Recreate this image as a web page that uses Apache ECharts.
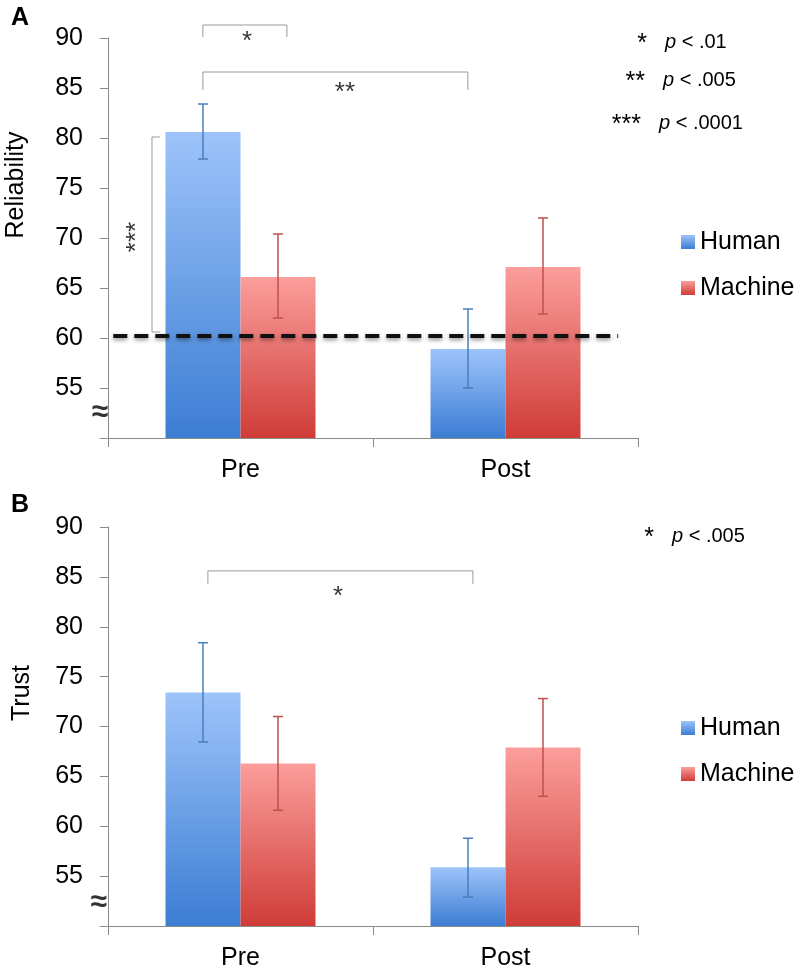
<!DOCTYPE html>
<html><head><meta charset="utf-8">
<script src="https://cdn.jsdelivr.net/npm/echarts@6/dist/echarts.min.js"></script>
<style>html,body{margin:0;padding:0;background:#fff}#c{width:800px;height:971px}</style>
</head><body><div id="c"></div>
<script>
// ---------- data ----------
const categories = ['Pre', 'Post'];
const seriesNames = ['Human', 'Machine'];
const yMin = 50, yMax = 90, yStep = 5;

// Panel A: Reliability
const relHuman = [80.6, 58.9];
const relHumanLow = [77.9, 55.0];
const relHumanHigh = [83.4, 62.9];
const relMachine = [66.1, 67.1];
const relMachineLow = [62.0, 62.4];
const relMachineHigh = [70.4, 72.0];
const relReference = 60.2;                 // dashed line value
const relReferenceSpan = [0.02, 1.925];     // along the 2 categories

// Panel B: Trust
const trustHuman = [73.4, 55.9];
const trustHumanLow = [68.45, 52.9];
const trustHumanHigh = [78.4, 58.8];
const trustMachine = [66.3, 67.9];
const trustMachineLow = [61.6, 63.0];
const trustMachineHigh = [71.0, 72.8];

// significance brackets (x in category units 0..2, y in axis units)
const relBrackets = [
  [[0.358, 90.1], [0.358, 91.3], [0.675, 91.3], [0.675, 90.1]],
  [[0.358, 84.8], [0.358, 86.6], [1.358, 86.6], [1.358, 84.8]],
  [[0.196, 80.1], [0.166, 80.1], [0.166, 60.6], [0.196, 60.6]]
];
const relMarks = [
  { x: 0.525, y: 89.6, text: '*', rotate: 0 },
  { x: 0.894, y: 84.5, text: '**', rotate: 0 },
  { x: 0.108, y: 70.1, text: '***', rotate: 90 },
  { x: -0.03, y: 52.5, text: '≈', rotate: 0, big: true }
];
const trustBrackets = [
  [[0.377, 84.3], [0.377, 85.6], [1.377, 85.6], [1.377, 84.3]]
];
const trustMarks = [
  { x: 0.868, y: 83.0, text: '*', rotate: 0 },
  { x: -0.035, y: 52.3, text: '≈', rotate: 0, big: true }
];
const relLegendNotes = [['*', 'p', ' < .01'], ['**', 'p', ' < .005'], ['***', 'p', ' < .0001']];
const trustLegendNotes = [['*', 'p', ' < .005']];

// ---------- style ----------
const FONT = '"Liberation Sans", Arial, Helvetica, sans-serif';
const BAR_FRAC = 0.566;
const blueGrad = () => new echarts.graphic.LinearGradient(0, 0, 0, 1, [
  { offset: 0, color: '#9DC4FA' }, { offset: 1, color: '#3C7DD3' }]);
const redGrad = () => new echarts.graphic.LinearGradient(0, 0, 0, 1, [
  { offset: 0, color: '#FB9E9C' }, { offset: 1, color: '#CF3C37' }]);

const grids = [
  { left: 108, top: 38, width: 530, height: 400 },
  { left: 108, top: 527, width: 530, height: 399 }
];

function catAxis(g) {
  return {
    type: 'category', gridIndex: g, data: categories, boundaryGap: true,
    axisLine: { onZero: false, lineStyle: { color: '#8a8a8a', width: 1 } },
    axisTick: { show: true, length: 9, lineStyle: { color: '#8a8a8a' } },
    axisLabel: { fontSize: 25, color: '#000', fontFamily: FONT, margin: 20 }
  };
}
function hiddenAxis(g) {
  return { type: 'value', gridIndex: g, min: 0, max: 2, show: false };
}
function valAxis(g) {
  return {
    type: 'value', gridIndex: g, min: yMin, max: yMax, interval: yStep,
    splitLine: { show: false },
    axisLine: { show: true, lineStyle: { color: '#8a8a8a', width: 1 } },
    axisTick: { show: true, length: 8, lineStyle: { color: '#8a8a8a' } },
    axisLabel: { fontSize: 25, color: '#000', fontFamily: FONT, margin: 25,
      formatter: v => (v === yMin ? '' : String(v)) }
  };
}

function barSeries(name, data, grad, xi, yi) {
  return {
    type: 'bar', name, data, xAxisIndex: xi, yAxisIndex: yi,
    barGap: '0%', barCategoryGap: ((1 - BAR_FRAC) * 100).toFixed(1) + '%',
    itemStyle: { color: grad }, clip: true, z: 2
  };
}
function errorSeries(name, low, high, side, color, xi, yi) {
  return {
    type: 'custom', name: name + ' err', xAxisIndex: xi, yAxisIndex: yi, z: 5, silent: true,
    data: low.map((l, i) => [i, l, high[i]]),
    encode: { x: 0, y: [1, 2] },
    renderItem(params, api) {
      const c = api.value(0);
      const lo = api.coord([c, api.value(1)]);
      const hi = api.coord([c, api.value(2)]);
      const band = api.size([1, 0])[0];
      const x = lo[0] + side * band * BAR_FRAC / 4;
      const cap = 5;
      const style = { stroke: color, lineWidth: 1.5 };
      return { type: 'group', children: [
        { type: 'line', shape: { x1: x, y1: hi[1], x2: x, y2: lo[1] }, style },
        { type: 'line', shape: { x1: x - cap, y1: hi[1], x2: x + cap, y2: hi[1] }, style },
        { type: 'line', shape: { x1: x - cap, y1: lo[1], x2: x + cap, y2: lo[1] }, style }
      ] };
    }
  };
}
function bracketSeries(list, xi, yi) {
  return list.map((pts, k) => ({
    type: 'line', name: 'bracket' + k, xAxisIndex: xi, yAxisIndex: yi, data: pts,
    symbol: 'none', clip: false, silent: true, z: 3,
    lineStyle: { color: '#9a9a9a', width: 1 }
  }));
}
function markSeries(list, xi, yi) {
  return {
    type: 'scatter', name: 'marks', xAxisIndex: xi, yAxisIndex: yi, clip: false, silent: true,
    symbolSize: 0, z: 6,
    data: list.map(m => ({
      value: [m.x, m.y],
      label: { show: true, position: 'inside', formatter: m.text, rotate: m.rotate,
        fontSize: m.big ? 30 : 26, fontWeight: m.big ? 'bold' : 'normal',
        color: '#000', fontFamily: FONT, align: 'center', verticalAlign: 'middle' }
    }))
  };
}
function notes(list, rightX, leftX, y0, dy) {
  const out = [];
  list.forEach((n, i) => {
    const y = y0 + i * dy[i];
    out.push({ type: 'text', x: rightX[i], y: y + 2, silent: true,
      style: { text: n[0], align: 'right', verticalAlign: 'middle', fontSize: 25, fontFamily: FONT, fill: '#000' } });
    out.push({ type: 'text', x: leftX[i], y: y, silent: true,
      style: { text: '{i|' + n[1] + '}' + n[2], align: 'left', verticalAlign: 'middle', fontSize: 20, fontFamily: FONT, fill: '#000',
        rich: { i: { fontStyle: 'italic', fontSize: 20, fontFamily: FONT, fill: '#000' } } } });
  });
  return out;
}

const legendBase = {
  orient: 'vertical', itemWidth: 14, itemHeight: 14, itemGap: 16, icon: 'rect',
  data: seriesNames, selectedMode: false,
  textStyle: { fontSize: 25, color: '#000', fontFamily: FONT, lineHeight: 30 }
};

const option = {
  animation: false,
  backgroundColor: '#fff',
  grid: grids,
  xAxis: [catAxis(0), hiddenAxis(0), catAxis(1), hiddenAxis(1)],
  yAxis: [valAxis(0), valAxis(1)],
  legend: [
    Object.assign({ left: 676, top: 222 }, legendBase),
    Object.assign({ left: 676, top: 708 }, legendBase)
  ],
  series: [
    barSeries('Human', relHuman, blueGrad(), 0, 0),
    barSeries('Machine', relMachine, redGrad(), 0, 0),
    errorSeries('Human', relHumanLow, relHumanHigh, -1, '#4A7EBB', 0, 0),
    errorSeries('Machine', relMachineLow, relMachineHigh, 1, '#C0504D', 0, 0),
    ...bracketSeries(relBrackets, 1, 0),
    {
      type: 'line', name: 'reference', xAxisIndex: 1, yAxisIndex: 0, symbol: 'none', silent: true, z: 7,
      data: relReferenceSpan.map(x => [x, relReference]),
      lineStyle: { color: '#111', width: 4, type: [14, 7],
        shadowBlur: 4, shadowColor: 'rgba(0,0,0,0.45)', shadowOffsetY: 2 }
    },
    markSeries(relMarks, 1, 0),

    barSeries('Human', trustHuman, blueGrad(), 2, 1),
    barSeries('Machine', trustMachine, redGrad(), 2, 1),
    errorSeries('Human', trustHumanLow, trustHumanHigh, -1, '#4A7EBB', 2, 1),
    errorSeries('Machine', trustMachineLow, trustMachineHigh, 1, '#C0504D', 2, 1),
    ...bracketSeries(trustBrackets, 3, 1),
    markSeries(trustMarks, 3, 1)
  ],
  graphic: [
    { type: 'text', x: 20, y: 18, silent: true,
      style: { text: 'A', align: 'center', verticalAlign: 'middle', fontSize: 25, fontWeight: 'bold', fontFamily: FONT, fill: '#000' } },
    { type: 'text', x: 20, y: 505, silent: true,
      style: { text: 'B', align: 'center', verticalAlign: 'middle', fontSize: 25, fontWeight: 'bold', fontFamily: FONT, fill: '#000' } },
    { type: 'text', x: 16, y: 185, rotation: Math.PI / 2, silent: true,
      style: { text: 'Reliability', align: 'center', verticalAlign: 'middle', fontSize: 25, fontFamily: FONT, fill: '#000' } },
    { type: 'text', x: 22, y: 693, rotation: Math.PI / 2, silent: true,
      style: { text: 'Trust', align: 'center', verticalAlign: 'middle', fontSize: 25, fontFamily: FONT, fill: '#000' } },
    ...notes(relLegendNotes, [647, 645, 641], [665, 663, 659], 42, [0, 38, 40.5]),
    ...notes(trustLegendNotes, [654], [672], 536, [0])
  ]
};

const chart = echarts.init(document.getElementById('c'), null, { renderer: 'canvas' });
chart.setOption(option);
</script>
</body></html>
